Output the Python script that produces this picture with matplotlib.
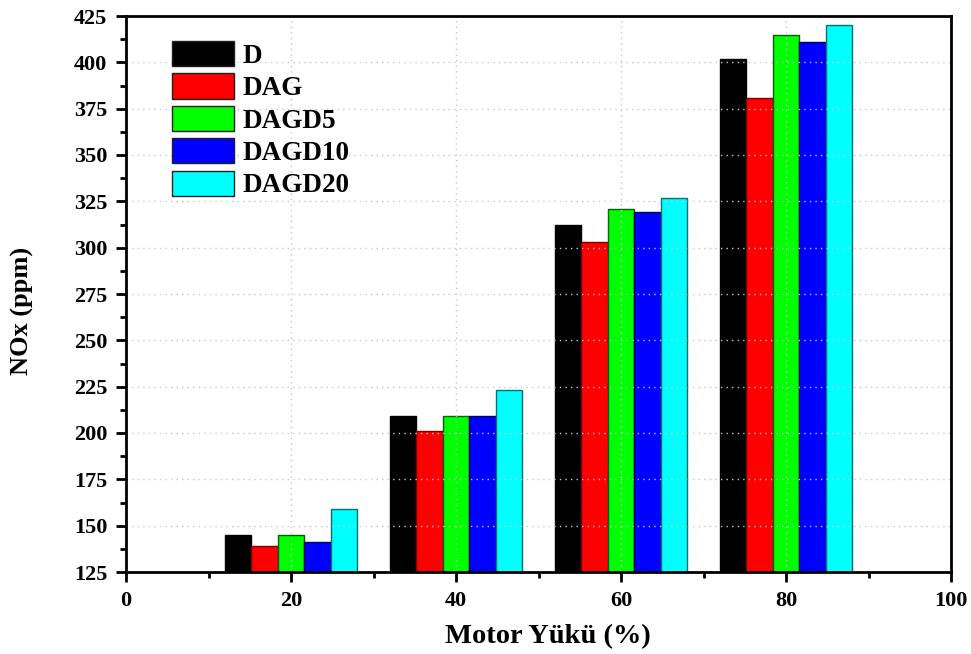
import numpy as np
import matplotlib.pyplot as plt
from matplotlib.ticker import MultipleLocator

# NOx emissions per fuel blend at each engine load
loads = [20, 40, 60, 80]
fuels = ['D', 'DAG', 'DAGD5', 'DAGD10', 'DAGD20']
nox_D = [145, 209, 312, 402]
nox_DAG = [139, 201, 303, 381]
nox_DAGD5 = [145, 209, 321, 415]
nox_DAGD10 = [141, 209, 319, 411]
nox_DAGD20 = [159, 223, 327, 420]

series = [nox_D, nox_DAG, nox_DAGD5, nox_DAGD10, nox_DAGD20]
faces = ['#000000', '#ff0000', '#00ff00', '#0000ff', '#00ffff']
edges = ['#000000', '#7a0000', '#006000', '#000060', '#007070']

plt.rcParams['font.family'] = ['Liberation Serif', 'DejaVu Serif']
plt.rcParams['font.weight'] = 'bold'

fig = plt.figure(figsize=(9.71, 6.54), dpi=100)
ax = fig.add_axes([126 / 971, 82 / 654, 825 / 971, 556 / 654])

width = 3.2
base = 125
x = np.array(loads, dtype=float)
for i, (vals, fc, ec, name) in enumerate(zip(series, faces, edges, fuels)):
    offs = (i - 2) * width
    ax.bar(x + offs, np.array(vals) - base, width, bottom=base,
           color=fc, edgecolor=ec, linewidth=1.0, label=name, zorder=2)

ax.set_xlim(0, 100)
ax.set_ylim(125, 425)
ax.xaxis.set_major_locator(MultipleLocator(20))
ax.xaxis.set_minor_locator(MultipleLocator(10))
ax.yaxis.set_major_locator(MultipleLocator(25))
ax.yaxis.set_minor_locator(MultipleLocator(12.5))

ax.grid(True, which='major', color='#c8c8c8', linestyle=(0, (1, 3)), linewidth=1.0, zorder=3)
ax.set_axisbelow(False)

for sp in ax.spines.values():
    sp.set_linewidth(2.0)
    sp.set_zorder(4)

ax.tick_params(axis='both', which='major', direction='out', length=7.5, width=2,
               labelsize=16)
ax.tick_params(axis='x', which='major', pad=6)
ax.tick_params(axis='y', which='major', pad=6)
ax.tick_params(axis='both', which='minor', direction='out', length=4, width=2)
ax.tick_params(top=False, right=False)
for lab in ax.get_xticklabels() + ax.get_yticklabels():
    lab.set_fontweight('bold')

ax.set_xlabel('Motor Yükü (%)', fontsize=20.5, fontweight='bold')
ax.set_ylabel('NOx (ppm)', fontsize=19, fontweight='bold')
ax.xaxis.set_label_coords(0.511, -0.093)
ax.yaxis.set_label_coords(-0.112, 0.47)

leg = ax.legend(loc='upper left', bbox_to_anchor=(0.056, 0.955), frameon=False,
                fontsize=19.5, handlelength=2.3, handleheight=1.05,
                handletextpad=0.3, labelspacing=0.17, borderaxespad=0,
                borderpad=0)
for t in leg.get_texts():
    t.set_fontweight('bold')
for h in leg.legend_handles:
    h.set_edgecolor('#202020')

fig.savefig('out.png', dpi=100)
